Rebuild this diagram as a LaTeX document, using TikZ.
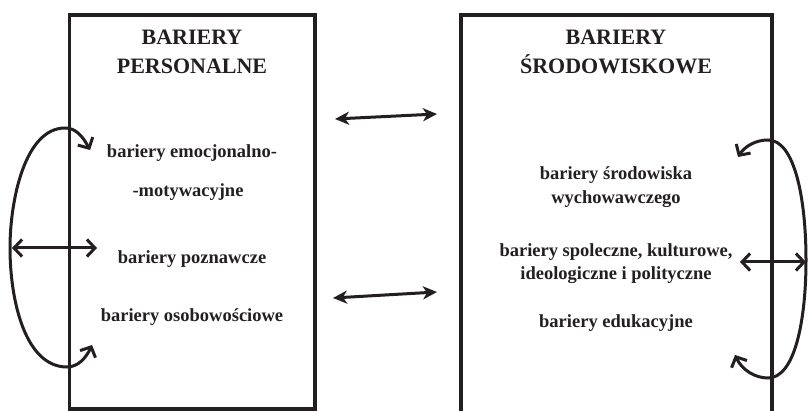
\documentclass[tikz,border=0pt]{standalone}
\usepackage{fontspec}
\setmainfont{Liberation Serif}
\usetikzlibrary{arrows.meta}
\definecolor{ink}{HTML}{231F20}
\begin{document}
\begin{tikzpicture}[x=1pt,y=-1pt,
  boxline/.style={line width=3.6pt, draw=ink},
  head/.style={font=\bfseries\fontsize{22}{26}\selectfont, anchor=base, inner sep=0pt, text=ink},
  item/.style={font=\bfseries\fontsize{18.5}{22}\selectfont, anchor=base, inner sep=0pt, text=ink},
  link/.style={line width=3pt, draw=ink, {Stealth[length=14pt,width=13pt,inset=4pt]}-{Stealth[length=14pt,width=13pt,inset=4pt]}},
  loopline/.style={line width=3pt, draw=ink, {Straight Barb[length=8pt,width=17pt]}-{Straight Barb[length=8pt,width=17pt]}}
]
\useasboundingbox (0,0) rectangle (808,411);

% boxes
\draw[boxline] (69.5,15) rectangle (315,409);
\draw[boxline] (461,411) -- (461,15) -- (772,15) -- (772,411);

% left box texts
\node[head] (lh1) at (192,45) {BARIERY};
\node[head] (lh2) at (192,74) {PERSONALNE};
\node[item] (l1a) at (192,158) {bariery emocjonalno-};
\node[item] (l1b) at (188,197) {-motywacyjne};
\node[item] (l2) at (192,264) {bariery poznawcze};
\node[item] (l3) at (192,322) {bariery osobowościowe};

% right box texts
\node[head] (rh1) at (616,45) {BARIERY};
\node[head] (rh2) at (616,74) {ŚRODOWISKOWE};
\node[item] (r1a) at (616,180) {bariery środowiska};
\node[item] (r1b) at (616,204) {wychowawczego};
\node[item] (r2a) at (616,257) {bariery spoleczne, kulturowe,};
\node[item] (r2b) at (616,280) {ideologiczne i polityczne};
\node[item] (r3) at (616,327) {bariery edukacyjne};

% middle links
\coordinate (m1l) at (335,119);
\coordinate (m1r) at (437,114);
\coordinate (m2l) at (333,298);
\coordinate (m2r) at (437,292);
\draw[link] (m1l) -- (m1r);
\draw[link] (m2l) -- (m2r);

% left loop
\coordinate (lt) at (90,150);
\coordinate (lb) at (92,345);
\coordinate (la) at (12,248);
\coordinate (lc) at (97,248);
\draw[loopline] (lt) .. controls (82,135) and (75,128) .. (65,128)
  .. controls (25,128) and (10,200) .. (10,248)
  .. controls (10,300) and (25,367) .. (67,367)
  .. controls (78,367) and (86,358) .. (lb);
\draw[loopline] (la) -- (lc);

% right loop
\coordinate (rt) at (738,157);
\coordinate (rb) at (735,355);
\coordinate (ra) at (740,262);
\coordinate (rc) at (806,262);
\draw[loopline] (rt) .. controls (745,146) and (756,140) .. (768,140)
  .. controls (795,140) and (806,200) .. (806,260)
  .. controls (806,320) and (795,378) .. (768,378)
  .. controls (755,378) and (742,370) .. (rb);
\draw[loopline] (ra) -- (rc);
\end{tikzpicture}
\end{document}
